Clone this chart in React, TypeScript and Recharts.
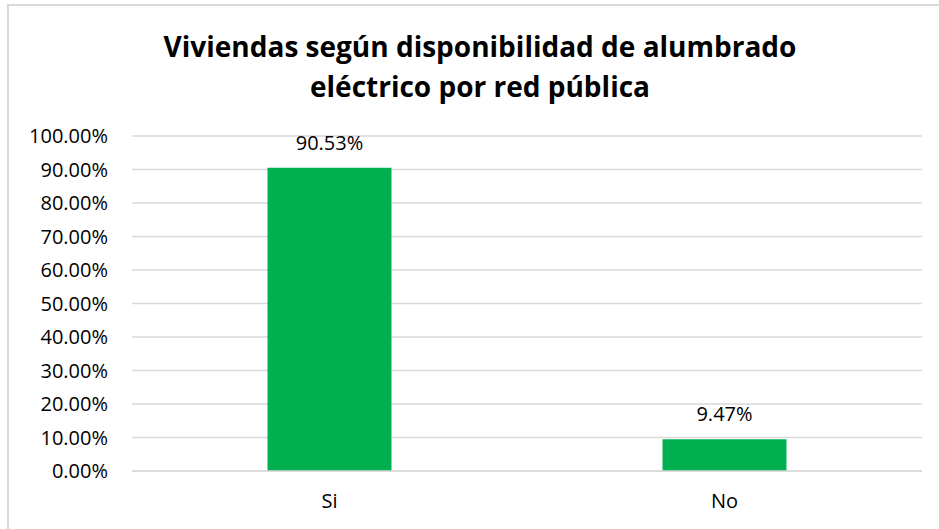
import { Bar, BarChart, CartesianGrid, LabelList, XAxis, YAxis } from "recharts";

const categories = ["Si", "No"];
const percentages = [90.53, 9.47];
const yTicks = [0, 10, 20, 30, 40, 50, 60, 70, 80, 90, 100];

const data = categories.map((name, i) => ({ name, value: percentages[i] }));

const FONT = "'Open Sans', 'Noto Sans', sans-serif";

const App = () => {
  return (
    <div
      style={{
        position: "fixed",
        left: 0,
        top: 0,
        width: 939,
        height: 529,
        background: "#fff",
        overflow: "hidden",
        fontFamily: FONT,
      }}
    >
      <div
        style={{
          position: "absolute",
          left: 7,
          top: 4,
          width: 960,
          height: 560,
          border: "2px solid #d9d9d9",
        }}
      />
      <div
        style={{
          position: "absolute",
          left: 0,
          width: 960,
          top: 26,
          textAlign: "center",
          fontWeight: 700,
          fontSize: 28,
          lineHeight: "40px",
          color: "#000",
        }}
      >
        Viviendas según disponibilidad de alumbrado
        <br />
        eléctrico por red pública
      </div>
      <BarChart
        width={939}
        height={529}
        data={data}
        margin={{ top: 136, right: 17, bottom: 0, left: 32 }}
        barCategoryGap="34.3%"
        style={{ position: "absolute", left: 0, top: 0 }}
      >
        <CartesianGrid vertical={false} stroke="#d9d9d9" strokeWidth={1.5} />
        <XAxis
          dataKey="name"
          height={58}
          axisLine={{ stroke: "#d9d9d9", strokeWidth: 1.5 }}
          tickLine={false}
          tickSize={0}
          tickMargin={23}
          tick={{ fill: "#000", fontSize: 20, fontFamily: FONT }}
        />
        <YAxis
          width={100}
          domain={[0, 100]}
          ticks={yTicks}
          axisLine={false}
          tickLine={false}
          tickSize={0}
          tickMargin={24}
          tickFormatter={(v: number) => `${v.toFixed(2)}%`}
          tick={{ fill: "#000", fontSize: 20, fontFamily: FONT }}
        />
        <Bar dataKey="value" fill="#00b050" isAnimationActive={false}>
          <LabelList
            dataKey="value"
            position="top"
            offset={18}
            formatter={(v: number) => `${v.toFixed(2)}%`}
            style={{ fill: "#000", fontSize: 20, fontFamily: FONT }}
          />
        </Bar>
      </BarChart>
    </div>
  );
};

export default App;
